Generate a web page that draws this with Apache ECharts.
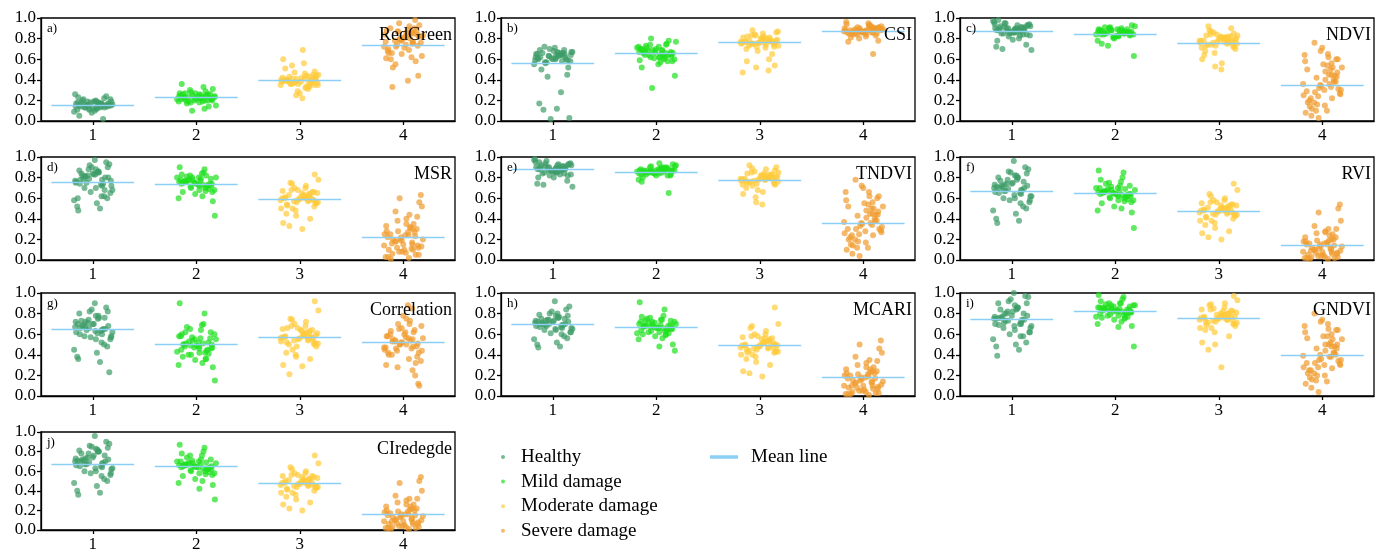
<!DOCTYPE html>
<html>
<head>
<meta charset="utf-8" />
<title>Vegetation indices by damage level</title>
<script src="https://cdn.jsdelivr.net/npm/echarts@6/dist/echarts.min.js"></script>
<style>
  html, body { margin: 0; padding: 0; background: #fff; }
  #main { width: 1384px; height: 553px; }
</style>
</head>
<body>
<div id="main"></div>
<script type="text/javascript">
var groups = ['Healthy', 'Mild damage', 'Moderate damage', 'Severe damage'];
var groupColors = ['#3d9c68', '#1ee01e', '#ffca3a', '#ef9b2d'];
var meanColor = '#8ccff5';
var xTicks = [1, 2, 3, 4];
// fixed horizontal spread of the points around each category
var jitter = [-0.12, 0.05, 0.17, -0.03, 0.09, -0.18, 0.01, 0.13, -0.08, 0.15, -0.15, 0.03, -0.06, 0.11, -0.01, 0.19, -0.11, 0.07, -0.17, 0.02,
  0.14, -0.05, 0.08, -0.13, 0.04, -0.09, 0.16, -0.02, 0.10, -0.14, 0.06, -0.07, 0.12, -0.16, 0.00, 0.18, -0.04, 0.09, -0.10, 0.03,
  0.055, -0.125, 0.145, -0.035, 0.085, -0.165, 0.025, 0.115, -0.075, 0.175, -0.145, 0.045, -0.055, 0.095, -0.015, 0.155, -0.105, 0.065, -0.185, 0.135];

// values per group: healthy, mild, moderate, severe
var redGreen = [
  [0.14,0.18,0.21,0.12,0.16,0.09,0.19,0.24,0.13,0.17,0.11,0.2,0.15,0.22,0.08,0.16,0.18,0.13,0.26,0.1,0.14,0.19,0.17,0.05,0.12,0.21,0.15,0.18,0.02,0.23,0.16,0.13,
   0.15,0.17,0.13,0.19,0.16,0.14,0.2,0.12,0.18,0.15,0.16,0.11,0.17,0.14,0.19,0.13,0.16,0.15,0.18,0.14],
  [0.22,0.25,0.18,0.3,0.2,0.27,0.15,0.23,0.33,0.19,0.24,0.21,0.28,0.12,0.26,0.22,0.17,0.31,0.2,0.25,0.36,0.19,0.23,0.14,0.27,0.21,0.24,0.1,0.29,0.2,0.26,0.22,
   0.23,0.21,0.25,0.2,0.24,0.22,0.26,0.19,0.23,0.21,0.25,0.18,0.24,0.22,0.2,0.27,0.23,0.21,0.26,0.22],
  [0.38,0.42,0.35,0.47,0.31,0.4,0.56,0.36,0.44,0.29,0.39,0.51,0.33,0.41,0.37,0.6,0.27,0.45,0.38,0.34,0.43,0.69,0.32,0.4,0.48,0.25,0.36,0.42,0.22,0.39,0.54,0.35,
   0.39,0.41,0.37,0.43,0.36,0.4,0.38,0.44,0.35,0.42,0.39,0.46,0.37,0.41,0.33,0.4,0.38,0.45,0.36,0.42],
  [0.78,0.85,0.66,0.92,0.72,0.58,0.88,0.81,0.63,0.95,0.75,0.52,0.83,0.69,0.9,0.44,0.79,0.86,0.61,0.74,0.98,0.55,0.82,0.7,0.39,0.87,0.77,0.65,0.93,0.33,0.8,0.72,0.84,0.6,0.89,0.76,
   0.8,0.76,0.84,0.71,0.88,0.78,0.82,0.68,0.86,0.74,0.9,0.79,0.83,0.66,0.85,0.77,0.81,0.73,0.87,0.62]
];
var redGreenMean = [0.155, 0.228, 0.394, 0.739];

var csi = [
  [0.62,0.66,0.58,0.7,0.64,0.55,0.68,0.6,0.72,0.52,0.65,0.63,0.57,0.69,0.61,0.67,0.5,0.64,0.59,0.71,0.45,0.43,0.28,0.17,0.12,0.11,0.03,0.02,0.66,0.6,0.63,0.56,
   0.62,0.65,0.6,0.67,0.63,0.58,0.66,0.61,0.64,0.69,0.59,0.63,0.66,0.62,0.6,0.65,0.57,0.64,0.61,0.67],
  [0.65,0.7,0.62,0.74,0.58,0.68,0.77,0.64,0.6,0.72,0.55,0.67,0.8,0.63,0.69,0.57,0.71,0.66,0.61,0.75,0.52,0.68,0.64,0.78,0.59,0.7,0.44,0.32,0.66,0.73,0.62,0.69,
   0.66,0.63,0.69,0.61,0.67,0.72,0.64,0.68,0.6,0.7,0.65,0.62,0.74,0.66,0.58,0.68,0.63,0.71,0.65,0.67],
  [0.76,0.8,0.72,0.84,0.78,0.7,0.82,0.75,0.86,0.68,0.79,0.77,0.74,0.88,0.65,0.81,0.76,0.73,0.83,0.6,0.78,0.85,0.71,0.58,0.54,0.52,0.49,0.47,0.8,0.77,0.75,0.87,
   0.77,0.79,0.75,0.81,0.76,0.78,0.73,0.8,0.77,0.74,0.82,0.76,0.79,0.72,0.78,0.75,0.8,0.77,0.83,0.76],
  [0.87,0.9,0.85,0.92,0.88,0.83,0.94,0.86,0.89,0.8,0.91,0.87,0.84,0.93,0.88,0.78,0.9,0.86,0.96,0.82,0.89,0.85,0.92,0.77,0.88,0.91,0.65,0.86,0.9,0.84,0.93,0.87,0.89,0.81,0.95,0.88,
   0.88,0.86,0.9,0.87,0.85,0.89,0.91,0.86,0.88,0.84,0.9,0.87,0.89,0.85,0.92,0.88,0.86,0.9,0.87,0.89]
];
var csiMean = [0.557, 0.658, 0.762, 0.873];

var ndvi = [
  [0.9,0.86,0.94,0.82,0.88,0.97,0.79,0.91,0.85,0.93,0.72,0.89,0.95,0.84,0.87,0.69,0.92,0.8,0.96,0.86,0.74,0.9,0.83,0.98,0.88,0.7,0.93,0.85,0.91,0.78,0.89,0.95,
   0.88,0.9,0.86,0.92,0.87,0.91,0.85,0.89,0.93,0.88,0.84,0.9,0.87,0.94,0.86,0.89,0.91,0.83,0.88,0.9],
  [0.85,0.88,0.82,0.9,0.86,0.8,0.92,0.84,0.87,0.78,0.89,0.83,0.91,0.86,0.75,0.88,0.85,0.93,0.81,0.87,0.84,0.9,0.73,0.86,0.89,0.82,0.63,0.88,0.85,0.91,0.83,0.87,
   0.86,0.84,0.88,0.85,0.87,0.83,0.89,0.86,0.84,0.88,0.85,0.9,0.86,0.82,0.87,0.85,0.88,0.84,0.86,0.87],
  [0.78,0.82,0.72,0.86,0.75,0.68,0.8,0.88,0.7,0.84,0.77,0.64,0.81,0.74,0.9,0.6,0.79,0.83,0.66,0.76,0.92,0.56,0.8,0.73,0.85,0.53,0.78,0.71,0.5,0.82,0.87,0.75,
   0.78,0.8,0.76,0.82,0.77,0.79,0.74,0.81,0.78,0.75,0.83,0.77,0.8,0.73,0.79,0.76,0.81,0.78,0.84,0.72],
  [0.35,0.52,0.18,0.62,0.28,0.44,0.08,0.71,0.3,0.24,0.56,0.12,0.4,0.65,0.2,0.47,0.03,0.33,0.58,0.15,0.38,0.76,0.26,0.5,0.1,0.42,0.22,0.68,0.31,0.05,0.45,0.36,0.6,0.14,0.54,0.27,
   0.32,0.45,0.25,0.55,0.38,0.18,0.6,0.29,0.48,0.1,0.4,0.34,0.52,0.22,0.36,0.64,0.3,0.43,0.16,0.5]
];
var ndviMean = [0.873, 0.847, 0.759, 0.345];

var msr = [
  [0.78,0.86,0.65,0.92,0.72,0.58,0.83,0.95,0.7,0.8,0.52,0.88,0.75,0.62,0.9,0.68,0.84,0.5,0.77,0.97,0.6,0.82,0.73,0.87,0.55,0.79,0.93,0.66,0.74,0.48,0.85,0.81,
   0.8,0.76,0.84,0.72,0.88,0.78,0.82,0.7,0.86,0.74,0.9,0.79,0.62,0.75,0.83,0.68,0.81,0.77,0.6,0.85],
  [0.74,0.78,0.68,0.82,0.72,0.64,0.8,0.76,0.85,0.6,0.73,0.79,0.7,0.88,0.66,0.77,0.81,0.57,0.75,0.71,0.83,0.62,0.78,0.69,0.9,0.74,0.43,0.8,0.67,0.76,0.72,0.84,
   0.75,0.72,0.78,0.7,0.76,0.8,0.73,0.77,0.68,0.74,0.79,0.71,0.82,0.75,0.66,0.77,0.73,0.8,0.74,0.76],
  [0.6,0.65,0.52,0.7,0.57,0.45,0.63,0.75,0.55,0.68,0.4,0.61,0.72,0.5,0.66,0.36,0.59,0.78,0.48,0.64,0.33,0.62,0.7,0.54,0.83,0.43,0.58,0.67,0.3,0.6,0.74,0.56,
   0.6,0.62,0.57,0.64,0.59,0.55,0.63,0.61,0.58,0.66,0.53,0.6,0.65,0.56,0.62,0.5,0.61,0.58,0.68,0.57],
  [0.22,0.35,0.1,0.44,0.18,0.05,0.28,0.15,0.52,0.08,0.3,0.2,0.4,0.02,0.25,0.12,0.6,0.17,0.33,0.07,0.23,0.47,0.13,0.03,0.27,0.38,0.1,0.19,0.56,0.06,0.31,0.14,0.42,0.01,0.24,0.63,
   0.2,0.15,0.25,0.1,0.3,0.18,0.05,0.22,0.35,0.12,0.27,0.08,0.2,0.16,0.32,0.03,0.24,0.14,0.28,0.11]
];
var msrMean = [0.755, 0.735, 0.588, 0.219];

var tndvi = [
  [0.9,0.86,0.94,0.82,0.88,0.97,0.8,0.91,0.85,0.93,0.74,0.89,0.96,0.84,0.87,0.71,0.92,0.83,0.98,0.86,0.77,0.9,0.88,0.95,0.85,0.73,0.93,0.87,0.91,0.8,0.89,0.94,
   0.88,0.9,0.86,0.92,0.87,0.91,0.84,0.89,0.93,0.88,0.82,0.9,0.87,0.95,0.85,0.89,0.91,0.83,0.88,0.92],
  [0.86,0.88,0.84,0.9,0.82,0.87,0.92,0.85,0.89,0.78,0.88,0.83,0.91,0.86,0.8,0.89,0.87,0.93,0.84,0.88,0.76,0.9,0.85,0.65,0.87,0.82,0.91,0.86,0.89,0.83,0.94,0.85,
   0.86,0.87,0.85,0.88,0.84,0.86,0.89,0.85,0.87,0.83,0.88,0.86,0.9,0.84,0.87,0.85,0.88,0.86,0.82,0.87],
  [0.78,0.82,0.74,0.86,0.8,0.7,0.84,0.76,0.9,0.68,0.81,0.77,0.88,0.72,0.83,0.64,0.79,0.85,0.61,0.8,0.92,0.66,0.78,0.75,0.87,0.56,0.8,0.73,0.54,0.82,0.89,0.76,
   0.79,0.81,0.77,0.83,0.78,0.8,0.75,0.82,0.79,0.76,0.84,0.78,0.81,0.74,0.8,0.77,0.82,0.79,0.85,0.73],
  [0.36,0.5,0.2,0.62,0.3,0.44,0.1,0.7,0.32,0.25,0.56,0.14,0.41,0.66,0.22,0.47,0.04,0.34,0.58,0.17,0.38,0.78,0.27,0.52,0.12,0.43,0.24,0.72,0.3,0.06,0.45,0.37,0.6,0.15,0.54,0.29,
   0.33,0.45,0.26,0.55,0.38,0.2,0.62,0.3,0.48,0.12,0.4,0.35,0.52,0.24,0.36,0.66,0.28,0.44,0.18,0.5]
];
var tndviMean = [0.882, 0.856, 0.775, 0.356];

var rvi = [
  [0.7,0.78,0.56,0.86,0.64,0.48,0.75,0.9,0.6,0.72,0.4,0.82,0.67,0.52,0.85,0.62,0.77,0.38,0.7,0.96,0.5,0.74,0.65,0.8,0.45,0.71,0.88,0.58,0.68,0.36,0.8,0.73,
   0.7,0.66,0.74,0.62,0.78,0.68,0.72,0.6,0.8,0.65,0.84,0.69,0.55,0.73,0.63,0.76,0.67,0.58,0.71,0.82],
  [0.64,0.7,0.58,0.75,0.62,0.52,0.68,0.66,0.8,0.48,0.63,0.72,0.6,0.85,0.55,0.67,0.74,0.46,0.65,0.61,0.78,0.5,0.69,0.59,0.87,0.64,0.31,0.71,0.57,0.66,0.62,0.76,
   0.65,0.62,0.68,0.6,0.66,0.7,0.63,0.67,0.58,0.64,0.72,0.61,0.69,0.65,0.56,0.67,0.63,0.7,0.64,0.66],
  [0.48,0.53,0.4,0.58,0.45,0.34,0.51,0.64,0.43,0.56,0.28,0.49,0.6,0.38,0.54,0.26,0.47,0.68,0.36,0.52,0.22,0.5,0.58,0.42,0.74,0.31,0.46,0.55,0.2,0.49,0.62,0.44,
   0.48,0.5,0.45,0.52,0.47,0.43,0.51,0.49,0.46,0.54,0.41,0.48,0.53,0.44,0.5,0.38,0.49,0.46,0.56,0.45],
  [0.15,0.25,0.05,0.3,0.1,0.02,0.18,0.08,0.38,0.04,0.2,0.12,0.28,0.01,0.16,0.07,0.46,0.11,0.22,0.03,0.14,0.33,0.09,0.02,0.17,0.26,0.06,0.13,0.5,0.03,0.19,0.08,0.3,0.01,0.15,0.54,
   0.12,0.08,0.18,0.05,0.22,0.1,0.03,0.15,0.27,0.07,0.2,0.04,0.13,0.09,0.24,0.02,0.16,0.06,0.19,0.11]
];
var rviMean = [0.667, 0.644, 0.477, 0.147];

var correlation = [
  [0.66,0.75,0.55,0.82,0.6,0.45,0.7,0.86,0.58,0.68,0.38,0.78,0.64,0.5,0.84,0.62,0.73,0.33,0.67,0.9,0.48,0.71,0.63,0.8,0.42,0.69,0.23,0.57,0.65,0.36,0.76,0.72,
   0.65,0.62,0.7,0.58,0.74,0.64,0.68,0.55,0.78,0.6,0.82,0.66,0.52,0.72,0.63,0.76,0.67,0.57,0.7,0.61],
  [0.5,0.58,0.42,0.65,0.45,0.35,0.55,0.48,0.7,0.3,0.52,0.62,0.4,0.8,0.38,0.56,0.67,0.28,0.47,0.44,0.6,0.32,0.53,0.41,0.9,0.49,0.15,0.57,0.36,0.51,0.46,0.69,
   0.5,0.46,0.54,0.42,0.58,0.48,0.52,0.4,0.6,0.45,0.64,0.49,0.36,0.55,0.47,0.62,0.51,0.43,0.56,0.5],
  [0.57,0.63,0.5,0.7,0.54,0.42,0.6,0.75,0.48,0.66,0.36,0.58,0.72,0.45,0.64,0.3,0.56,0.83,0.4,0.61,0.21,0.59,0.68,0.52,0.92,0.38,0.55,0.65,0.29,0.57,0.74,0.51,
   0.57,0.6,0.54,0.63,0.55,0.59,0.5,0.62,0.56,0.52,0.66,0.58,0.61,0.48,0.57,0.53,0.64,0.56,0.68,0.51],
  [0.52,0.62,0.4,0.7,0.46,0.32,0.58,0.78,0.44,0.65,0.25,0.55,0.75,0.36,0.6,0.12,0.5,0.85,0.3,0.57,0.2,0.54,0.68,0.42,0.88,0.28,0.48,0.66,0.1,0.53,0.73,0.47,0.38,0.63,0.56,0.34,
   0.5,0.55,0.45,0.6,0.48,0.53,0.42,0.58,0.5,0.44,0.64,0.52,0.56,0.4,0.54,0.47,0.62,0.51,0.7,0.46]
];
var correlationMean = [0.651, 0.502, 0.570, 0.518];

var mcari = [
  [0.7,0.76,0.62,0.8,0.66,0.55,0.73,0.84,0.64,0.72,0.5,0.78,0.68,0.58,0.82,0.65,0.75,0.48,0.71,0.92,0.56,0.74,0.67,0.79,0.52,0.7,0.87,0.61,0.69,0.47,0.77,0.73,
   0.7,0.68,0.72,0.66,0.74,0.69,0.71,0.64,0.76,0.67,0.78,0.7,0.6,0.73,0.65,0.75,0.69,0.62,0.72,0.8],
  [0.67,0.72,0.62,0.76,0.65,0.58,0.7,0.68,0.78,0.55,0.66,0.73,0.63,0.84,0.6,0.69,0.75,0.5,0.67,0.64,0.77,0.56,0.71,0.61,0.91,0.66,0.44,0.72,0.59,0.68,0.48,0.74,
   0.67,0.65,0.69,0.63,0.7,0.66,0.68,0.62,0.72,0.64,0.74,0.67,0.6,0.71,0.65,0.73,0.66,0.61,0.69,0.68],
  [0.49,0.55,0.42,0.6,0.46,0.36,0.52,0.66,0.44,0.58,0.3,0.5,0.63,0.4,0.56,0.24,0.48,0.7,0.38,0.54,0.22,0.51,0.6,0.45,0.86,0.33,0.47,0.57,0.19,0.5,0.68,0.43,
   0.49,0.52,0.46,0.55,0.48,0.5,0.44,0.53,0.47,0.51,0.42,0.56,0.49,0.45,0.54,0.4,0.5,0.47,0.58,0.43],
  [0.18,0.28,0.08,0.35,0.13,0.03,0.22,0.1,0.42,0.05,0.24,0.15,0.32,0.01,0.2,0.09,0.5,0.14,0.26,0.04,0.17,0.38,0.11,0.02,0.21,0.3,0.07,0.16,0.46,0.04,0.23,0.1,0.34,0.02,0.19,0.54,
   0.15,0.1,0.2,0.06,0.24,0.12,0.03,0.17,0.28,0.08,0.22,0.05,0.14,0.1,0.26,0.02,0.18,0.07,0.21,0.13]
];
var mcariMean = [0.700, 0.668, 0.492, 0.179];

var gndvi = [
  [0.76,0.85,0.62,0.92,0.7,0.55,0.82,0.97,0.66,0.78,0.48,0.88,0.73,0.58,0.94,0.68,0.84,0.45,0.75,1.0,0.52,0.8,0.7,0.9,0.5,0.77,0.96,0.6,0.74,0.39,0.86,0.8,
   0.74,0.7,0.78,0.66,0.82,0.72,0.76,0.64,0.86,0.69,0.9,0.73,0.58,0.77,0.68,0.8,0.71,0.62,0.75,0.84],
  [0.82,0.86,0.78,0.9,0.8,0.74,0.88,0.84,0.94,0.7,0.83,0.87,0.79,0.96,0.76,0.85,0.89,0.68,0.82,0.81,0.92,0.72,0.86,0.77,0.98,0.83,0.48,0.88,0.75,0.84,0.67,0.9,
   0.83,0.81,0.85,0.79,0.86,0.82,0.84,0.78,0.88,0.8,0.9,0.83,0.76,0.87,0.81,0.85,0.82,0.77,0.84,0.86],
  [0.76,0.8,0.7,0.85,0.74,0.64,0.82,0.88,0.68,0.79,0.58,0.77,0.9,0.66,0.83,0.52,0.75,0.93,0.62,0.8,0.45,0.78,0.86,0.72,0.97,0.5,0.74,0.84,0.28,0.77,0.89,0.71,
   0.76,0.78,0.73,0.8,0.75,0.77,0.71,0.79,0.74,0.82,0.69,0.76,0.81,0.72,0.78,0.66,0.77,0.74,0.84,0.7],
  [0.4,0.55,0.22,0.65,0.32,0.48,0.12,0.74,0.35,0.28,0.6,0.16,0.44,0.7,0.25,0.5,0.04,0.38,0.62,0.2,0.42,0.8,0.3,0.56,0.14,0.46,0.27,0.72,0.34,0.08,0.5,0.39,0.64,0.18,0.58,0.31,
   0.35,0.48,0.28,0.58,0.4,0.22,0.64,0.32,0.5,0.15,0.42,0.36,0.55,0.25,0.38,0.68,0.3,0.46,0.2,0.52]
];
var gndviMean = [0.743, 0.824, 0.752, 0.394];

var ciRededge = [
  [0.7,0.8,0.56,0.86,0.64,0.48,0.76,0.9,0.6,0.72,0.4,0.83,0.67,0.52,0.85,0.63,0.78,0.38,0.7,0.96,0.5,0.74,0.65,0.81,0.45,0.71,0.88,0.58,0.68,0.36,0.8,0.73,
   0.7,0.66,0.74,0.62,0.78,0.68,0.72,0.6,0.8,0.65,0.84,0.69,0.55,0.73,0.63,0.76,0.67,0.58,0.71,0.82],
  [0.65,0.7,0.58,0.76,0.62,0.52,0.68,0.66,0.8,0.48,0.64,0.72,0.6,0.84,0.55,0.67,0.74,0.46,0.65,0.62,0.78,0.5,0.69,0.59,0.87,0.64,0.31,0.71,0.57,0.66,0.42,0.76,
   0.65,0.62,0.68,0.6,0.66,0.7,0.63,0.67,0.58,0.64,0.72,0.61,0.69,0.65,0.56,0.67,0.63,0.7,0.64,0.66],
  [0.48,0.54,0.4,0.58,0.45,0.34,0.52,0.64,0.43,0.56,0.28,0.5,0.6,0.38,0.55,0.26,0.47,0.68,0.36,0.52,0.22,0.5,0.58,0.42,0.76,0.31,0.46,0.55,0.2,0.49,0.62,0.44,
   0.48,0.5,0.45,0.52,0.47,0.43,0.51,0.49,0.46,0.54,0.41,0.48,0.53,0.44,0.5,0.38,0.49,0.46,0.56,0.45],
  [0.16,0.26,0.06,0.32,0.11,0.02,0.2,0.09,0.4,0.04,0.22,0.13,0.3,0.01,0.17,0.08,0.48,0.12,0.24,0.03,0.15,0.35,0.1,0.02,0.19,0.28,0.06,0.14,0.5,0.03,0.21,0.09,0.32,0.01,0.16,0.54,
   0.13,0.08,0.18,0.05,0.22,0.1,0.03,0.15,0.26,0.07,0.2,0.04,0.14,0.09,0.24,0.02,0.16,0.06,0.19,0.11]
];
var ciRededgeMean = [0.671, 0.648, 0.482, 0.160];

var panels = [
  { tag: 'a)', name: 'RedGreen', pts: redGreen, mean: redGreenMean },
  { tag: 'b)', name: 'CSI', pts: csi, mean: csiMean },
  { tag: 'c)', name: 'NDVI', pts: ndvi, mean: ndviMean },
  { tag: 'd)', name: 'MSR', pts: msr, mean: msrMean },
  { tag: 'e)', name: 'TNDVI', pts: tndvi, mean: tndviMean },
  { tag: 'f)', name: 'RVI', pts: rvi, mean: rviMean },
  { tag: 'g)', name: 'Correlation', pts: correlation, mean: correlationMean },
  { tag: 'h)', name: 'MCARI', pts: mcari, mean: mcariMean },
  { tag: 'i)', name: 'GNDVI', pts: gndvi, mean: gndviMean },
  { tag: 'j)', name: 'CIredegde', pts: ciRededge, mean: ciRededgeMean }
];

var colLeft = [41, 501, 960];
var rowTop = [18, 157, 293, 432];
var plotW = 414, plotH = 103;
var font = "'Liberation Serif', 'Times New Roman', serif";
var axisStyle = { color: '#000', width: 1.3 };

var grids = [], xAxes = [], yAxes = [], series = [], texts = [];
panels.forEach(function (p, k) {
  var left = colLeft[k % 3], top = rowTop[Math.floor(k / 3)];
  grids.push({ left: left, top: top, width: plotW, height: plotH, show: true, borderColor: '#000', borderWidth: 1.3 });
  xAxes.push({
    gridIndex: k, type: 'value', min: 0.5, max: 4.5,
    splitLine: { show: false },
    axisLine: { onZero: false, lineStyle: axisStyle },
    axisTick: { customValues: xTicks, length: 4, lineStyle: axisStyle },
    axisLabel: { customValues: xTicks, margin: 6, color: '#000', fontFamily: font, fontSize: 17 }
  });
  yAxes.push({
    gridIndex: k, type: 'value', min: 0, max: 1, interval: 0.2,
    splitLine: { show: false },
    axisLine: { show: true, lineStyle: axisStyle },
    axisTick: { show: true, length: 4, lineStyle: axisStyle },
    axisLabel: { margin: 5, color: '#000', fontFamily: font, fontSize: 17,
      formatter: function (v) { return v.toFixed(1); } }
  });
  p.pts.forEach(function (vals, g) {
    series.push({
      name: groups[g], type: 'scatter', xAxisIndex: k, yAxisIndex: k,
      symbolSize: 6, itemStyle: { color: groupColors[g], opacity: 0.7 },
      data: vals.map(function (v, i) { return [xTicks[g] + jitter[(i + g * 9) % jitter.length], v]; })
    });
  });
  series.push({
    name: 'Mean line', type: 'lines', coordinateSystem: 'cartesian2d', xAxisIndex: k, yAxisIndex: k, z: 5,
    lineStyle: { color: meanColor, width: 1.4, opacity: 1 },
    data: p.mean.map(function (m, g) { return { coords: [[xTicks[g] - 0.4, m], [xTicks[g] + 0.4, m]] }; })
  });
  texts.push({ type: 'text', x: left + 6, y: top + 4, z: 20,
    style: { text: p.tag, font: '13px ' + font, fill: '#000' } });
  texts.push({ type: 'text', x: left + plotW - 3, y: top + 17, z: 20,
    style: { text: p.name, font: '18px ' + font, fill: '#000', align: 'right', verticalAlign: 'middle' } });
});

var myChart = echarts.init(document.getElementById('main'));
myChart.setOption({
  animation: false,
  backgroundColor: '#fff',
  grid: grids,
  xAxis: xAxes,
  yAxis: yAxes,
  legend: [
    { data: groups, orient: 'vertical', left: 496, top: 442, icon: 'circle', itemWidth: 26, itemHeight: 4, itemGap: 4.6,
      selectedMode: false, textStyle: { fontFamily: font, fontSize: 19, color: '#000', lineHeight: 20 } },
    { data: [{ name: 'Mean line', itemStyle: { color: meanColor } }], left: 705, top: 442, icon: 'rect', itemWidth: 26, itemHeight: 1.5,
      selectedMode: false, textStyle: { fontFamily: font, fontSize: 19, color: '#000', lineHeight: 20, padding: [0, 0, 0, 9] } }
  ],
  graphic: texts,
  series: series
});
</script>
</body>
</html>
